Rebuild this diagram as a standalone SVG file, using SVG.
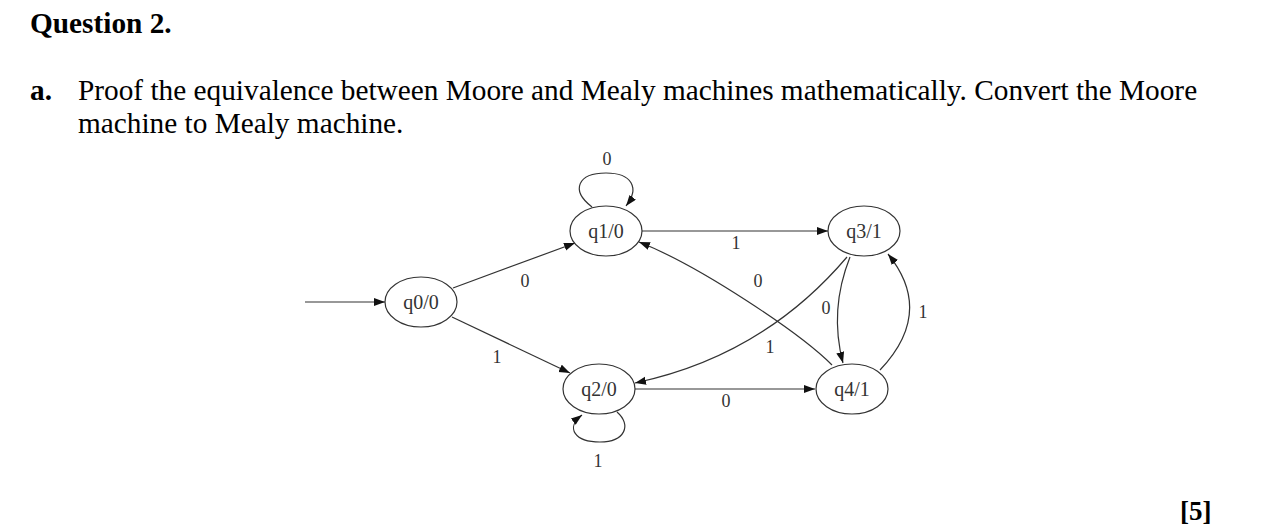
<svg xmlns="http://www.w3.org/2000/svg" width="1268" height="524" viewBox="0 0 1268 524">
<style>
.h{font-family:"Liberation Serif","Times New Roman",serif;font-size:29.3px;fill:#000}
.b{font-weight:bold}
.node ellipse{fill:#fff;stroke:#333;stroke-width:1.2}
.node text{font-family:"Liberation Serif","Times New Roman",serif;font-size:20px;fill:#333;text-anchor:middle}
.edges path{fill:none;stroke:#333;stroke-width:1.2}
.lbl{font-family:"Liberation Serif","Times New Roman",serif;font-size:18px;fill:#333;text-anchor:middle}
</style>
<defs>
<marker id="arr" markerUnits="userSpaceOnUse" markerWidth="12" markerHeight="9" refX="11" refY="4" orient="auto">
<path d="M0,0 L11,4 L0,8 z" fill="#111"/>
</marker>
</defs>
<rect width="1268" height="524" fill="#fff"/>
<text class="h b" x="30" y="33">Question 2.</text>
<text class="h b" x="30" y="100">a.</text>
<text class="h" x="78" y="100">Proof the equivalence between Moore and Mealy machines mathematically. Convert the Moore</text>
<text class="h" x="78" y="133">machine to Mealy machine.</text>
<text class="h b" x="1180" y="520" style="font-size:27px">[5]</text>

<g id="connectors" class="edges">
<path d="M305,302 L385,302" marker-end="url(#arr)"/>
<path d="M453,288 L575,243" marker-end="url(#arr)"/>
<path d="M452,317 L570,373" marker-end="url(#arr)"/>
<path d="M642,231 L828,231" marker-end="url(#arr)"/>
<path d="M832,365 C800,333 700,266 639,242" marker-end="url(#arr)"/>
<path d="M847,257 Q763,356 635,383" marker-end="url(#arr)"/>
<path d="M850,257 Q829,310 843,363" marker-end="url(#arr)"/>
<path d="M880,370 Q935,312 888,254" marker-end="url(#arr)"/>
<path d="M635,389 L815,389" marker-end="url(#arr)"/>
<path d="M592,207 C570,190 578,173 606,173 C632,173 640,188 626,206" marker-end="url(#arr)"/>
<path d="M617,412 C632,425 625,442 600,442 C575,442 565,428 582,415" marker-end="url(#arr)"/>
</g>
<g id="edge-labels">
<text class="lbl" x="607" y="165">0</text>
<text class="lbl" x="525" y="287">0</text>
<text class="lbl" x="497" y="363">1</text>
<text class="lbl" x="736" y="249">1</text>
<text class="lbl" x="758" y="287">0</text>
<text class="lbl" x="770" y="353">1</text>
<text class="lbl" x="826" y="314">0</text>
<text class="lbl" x="923" y="318">1</text>
<text class="lbl" x="726" y="407">0</text>
<text class="lbl" x="598" y="467">1</text>
</g>

<g id="q0" class="node"><ellipse cx="421" cy="302" rx="36" ry="25"/><text x="421" y="309">q0/0</text></g>
<g id="q1" class="node"><ellipse cx="606" cy="231" rx="36" ry="25"/><text x="606" y="238">q1/0</text></g>
<g id="q2" class="node"><ellipse cx="599" cy="389" rx="36" ry="25"/><text x="599" y="396">q2/0</text></g>
<g id="q3" class="node"><ellipse cx="864" cy="231" rx="36" ry="25"/><text x="864" y="238">q3/1</text></g>
<g id="q4" class="node"><ellipse cx="852" cy="389" rx="36" ry="25"/><text x="852" y="396">q4/1</text></g>
</svg>
